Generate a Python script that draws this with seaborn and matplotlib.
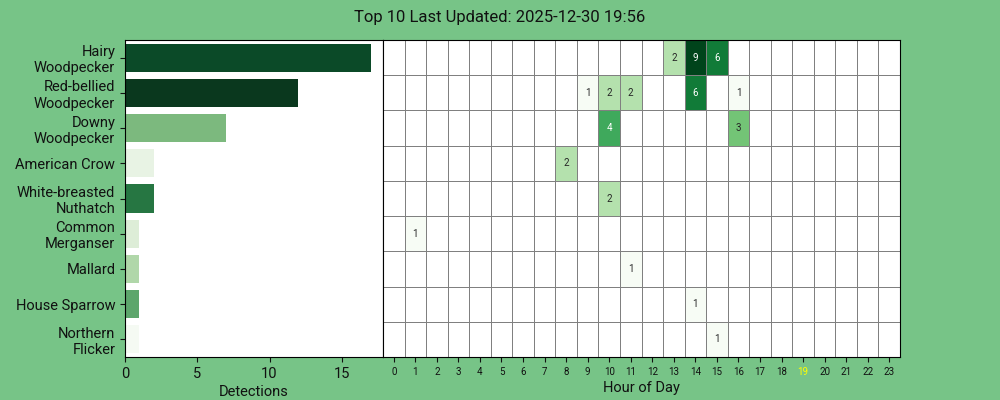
import numpy as np
import pandas as pd
import seaborn as sns
import matplotlib.pyplot as plt
from matplotlib.colors import LogNorm

species = ['Hairy\nWoodpecker', 'Red-bellied\nWoodpecker', 'Downy\nWoodpecker',
           'American Crow', 'White-breasted\nNuthatch', 'Common\nMerganser',
           'Mallard', 'House Sparrow', 'Northern\nFlicker']
totals = [17, 12, 7, 2, 2, 1, 1, 1, 1]
bar_colors = ['#0b4a28', '#0a381e', '#7cb97e', '#e8f3e4', '#267642',
              '#ddedd7', '#b0d7a9', '#5da66c', '#f5faf3']

hours = list(range(24))
# detections per species per hour (only non-zero hours)
hourly = {
    'Hairy\nWoodpecker': {13: 2, 14: 9, 15: 6},
    'Red-bellied\nWoodpecker': {9: 1, 10: 2, 11: 2, 14: 6, 16: 1},
    'Downy\nWoodpecker': {10: 4, 16: 3},
    'American Crow': {8: 2},
    'White-breasted\nNuthatch': {10: 2},
    'Common\nMerganser': {1: 1},
    'Mallard': {11: 1},
    'House Sparrow': {14: 1},
    'Northern\nFlicker': {15: 1},
}
current_hour = 19
title = 'Top 10 Last Updated: 2025-12-30 19:56'

counts = np.zeros((len(species), 24))
for i, sp in enumerate(species):
    for h, c in hourly[sp].items():
        counts[i, h] = c
heat = pd.DataFrame(counts, index=species, columns=hours)

bg = '#77c487'
plt.rcParams['font.family'] = ['Roboto', 'DejaVu Sans']
plt.rcParams['text.color'] = '#111111'
plt.rcParams['axes.labelcolor'] = '#111111'
plt.rcParams['xtick.color'] = '#111111'
plt.rcParams['ytick.color'] = '#111111'

fig = plt.figure(figsize=(10, 4), dpi=100, facecolor=bg)
ax1 = fig.add_axes([0.125, 0.1075, 0.258, 0.7925])
ax2 = fig.add_axes([0.383, 0.1075, 0.517, 0.7925])

df = pd.DataFrame({'species': species, 'count': totals})
sns.barplot(data=df, y='species', x='count', hue='species', palette=bar_colors,
            legend=False, ax=ax1, width=0.8, saturation=1)
ax1.set_ylabel('')
ax1.set_xlabel('Detections', fontsize=10.5, labelpad=3)
ax1.tick_params(axis='both', labelsize=10.5)
ax1.set_facecolor('white')
for s in ax1.spines.values():
    s.set_visible(True)
    s.set_color('black')

cmap = plt.get_cmap('Greens').copy()
cmap.set_bad('white')
labels = np.where(counts > 0, counts.astype(int).astype(str), '')
sns.heatmap(heat, ax=ax2, cmap=cmap, norm=LogNorm(vmin=1, vmax=9),
            mask=counts == 0, annot=labels, fmt='', cbar=False,
            linewidths=0.6, linecolor='gray', annot_kws={'size': 7})
ax2.set_facecolor('white')
ax2.set_yticks([])
ax2.set_ylabel('')
ax2.set_xlabel('Hour of Day', fontsize=10.5, labelpad=3)
ax2.tick_params(axis='x', labelsize=7, rotation=0)
for lbl in ax2.get_xticklabels():
    if lbl.get_text() == str(current_hour):
        lbl.set_color('yellow')
for s in ax2.spines.values():
    s.set_visible(True)
    s.set_color('black')

fig.suptitle(title, fontsize=12, y=0.975)
fig.savefig('out.png', facecolor=bg)
